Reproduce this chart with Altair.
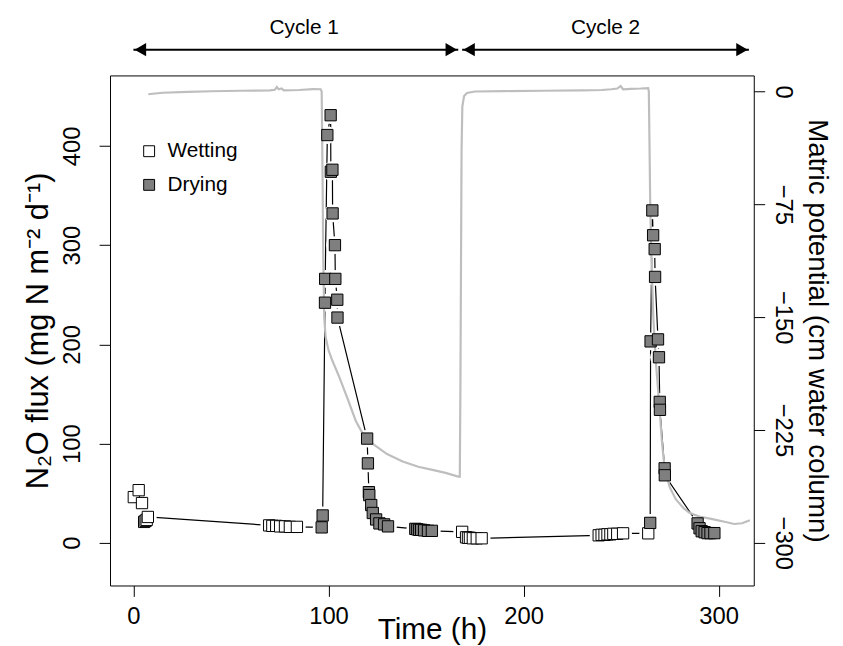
import altair as alt
import pandas as pd

FONT = "Liberation Sans"

# ---- Matric potential (grey line, right axis) ----
psi_t = [7.6, 10, 15, 28, 40, 55, 70, 72.5, 73.5, 74.5, 76, 77, 85, 92, 96,
         96.5, 96.9, 97.3, 97.8, 98.5, 100, 102, 105.6, 110, 114, 117.8, 122.9,
         130, 138, 146, 155, 160, 166.5, 167.3,
         167.6, 167.9, 168.2, 168.6, 169.5, 171, 175, 190, 210, 230, 240, 245,
         248, 249.7, 251, 255, 260, 263.9,
         264.2, 264.5, 264.9, 265.5, 266.5, 267.8, 269, 269.8, 271, 272.3, 274.9,
         278, 282, 285, 290, 296.8, 303, 308, 312, 316]
psi_v = [-1.8, -1.5, -0.8, -0.2, 0.2, 0.5, 0.8, 1.2, 3.0, 1.5, 2.0, 0.8, 1.0, 1.6, 1.5,
         0, -50, -110, -150, -163, -172, -179, -190, -205, -219, -228, -234.5,
         -241, -246, -249.5, -252, -253.5, -256, -256,
         -200, -120, -40, -10, -3, -1, 0, 0.3, 0.5, 0.8, 1.0, 1.5,
         2.0, 3.6, 1.5, 1.8, 2.0, 2.3,
         0, -30, -74, -110, -150, -180, -199, -213, -234, -251, -263,
         -271, -277, -280, -282.5, -284.3, -286, -287.5, -287, -285]

# ---- N2O flux (squares + connecting line, left axis) ----
flux_t = [0.2, 2.7, 4.4, 5.5, 6.2, 6.8, 7.4,
          69.6, 71.2, 73.2, 75.2, 77.7, 80.2, 83.8,
          96.5, 97.0, 98.2, 98.3, 99.4, 101.1, 101.2, 102.0, 102.1, 103.3, 103.5,
          104.5, 104.6, 119.8, 120.2, 120.7, 120.9, 121.9, 122.7, 124.4, 126.1,
          128.5, 130.5,
          144.5, 145.5, 146.5, 147.5, 149, 151, 153,
          168.5, 170.5, 171.5, 172.5, 174, 176, 178.5,
          238.5, 240, 241.5, 243, 244.5, 246, 248, 251,
          263.9,
          264.9, 265.1, 266.0, 266.4, 267.2, 267.4, 268.9, 269.4, 269.8, 269.9,
          272.3, 272.4, 289.2, 290.2, 291.3, 292.8, 294.3, 295.8, 297.8]
flux_v = [46, 53, 40, 21, 22, 23, 26,
          17.5, 17, 17, 16.5, 16.5, 16, 16,
          15.5, 27.5, 242, 266, 411, 431, 374, 376, 332, 300, 266,
          245, 227, 105, 80, 51, 48, 38, 30, 23.5, 19.5,
          18.5, 16.5,
          14, 13.5, 13, 13, 12.5, 12, 12,
          11, 5.5, 5, 5, 4.5, 4.5, 4.5,
          7.5, 8, 8, 8.5, 8.5, 9, 9, 9.5,
          9.5,
          20, 203, 335, 310, 296, 268, 205, 187, 142, 134,
          75, 68, 19.5, 14.6, 11.6, 10.6, 9.7, 9.7, 9.7]
flux_phase = (["Wetting"] * 14 + ["Drying"] * 30 + ["Wetting"] * 16 +
              ["Drying"] * 19)

# ---- Cycles (arrows at top) ----
cycle_names = ["Cycle 1", "Cycle 2"]
cycle_start = [0, 168.5]
cycle_end = [166.5, 315.5]
cycle_label_t = [87.5, 242]

x_ticks = [0, 100, 200, 300]
left_ticks = [0, 100, 200, 300, 400]
right_ticks = [0, -75, -150, -225, -300]

psi_df = pd.DataFrame({"t": psi_t, "p": psi_v})
flux_df = pd.DataFrame({"t": flux_t, "v": flux_v, "phase": flux_phase,
                        "i": list(range(len(flux_t)))})
cyc_df = pd.DataFrame({"name": cycle_names, "start": cycle_start,
                       "end": cycle_end, "mid": cycle_label_t})

x_scale = alt.Scale(domain=[-12, 318], nice=False, zero=False)
yl_scale = alt.Scale(domain=[-43.1, 471.1], nice=False, zero=False)
yr_scale = alt.Scale(domain=[-328.4, 10.7], nice=False, zero=False)

common = dict(labelFont=FONT, labelFontSize=24, labelColor="black",
              titleFont=FONT, titleFontWeight="normal",
              titleColor="black", tickColor="black", tickSize=11, tickWidth=1,
              domain=False, grid=False, labelFlush=False)

x_axis = alt.Axis(values=x_ticks, title="Time (h)", labelPadding=8,
                  titleFontSize=30, titleBaseline="alphabetic", titleY=54,
                  **common)
yl_axis = alt.Axis(orient="left", values=left_ticks,
                   title="N\u2082O flux (mg N m\u207b\u00b2 d\u207b\u00b9)",
                   labelAngle=270, labelAlign="center", labelBaseline="bottom",
                   labelPadding=15, titleFontSize=31,
                   titleBaseline="alphabetic", titleX=-63, **common)
yr_axis = alt.Axis(orient="right", values=right_ticks,
                   title="Matric potential (cm water column)",
                   labelAngle=90, labelAlign="center", labelBaseline="bottom",
                   titleAngle=90, labelPadding=6, titleFontSize=28,
                   titleBaseline="alphabetic", titleX=55, **common)

x_enc = alt.X("t:Q", scale=x_scale, axis=x_axis)

# black connecting line (left axis)
fline = alt.Chart(flux_df).mark_line(color="black", strokeWidth=1.2).encode(
    x=x_enc,
    y=alt.Y("v:Q", scale=yl_scale, axis=yl_axis),
    order="i:Q",
)

# white halo around each point: gives the "line with gaps" look of type="b"
halo = alt.Chart(flux_df).mark_circle(size=320, color="white",
                                      opacity=1).encode(
    x=x_enc,
    y=alt.Y("v:Q", scale=yl_scale, axis=None),
)

grey = alt.Chart(psi_df).mark_line(color="#bebebe", strokeWidth=2.2).encode(
    x=x_enc,
    y=alt.Y("p:Q", scale=yr_scale, axis=yr_axis),
)

pts = alt.Chart(flux_df).mark_square(size=130, stroke="black", strokeWidth=1,
                                     opacity=1).encode(
    x=x_enc,
    y=alt.Y("v:Q", scale=yl_scale, axis=None),
    fill=alt.Fill("phase:N",
                  scale=alt.Scale(domain=["Wetting", "Drying"],
                                  range=["white", "#7f7f7f"]),
                  legend=alt.Legend(orient="none", legendX=29, legendY=66,
                                    title=None, symbolType="square",
                                    symbolSize=121, symbolStrokeColor="black",
                                    symbolStrokeWidth=1, symbolOpacity=1,
                                    labelFont=FONT, labelFontSize=21,
                                    labelColor="black", labelOffset=8,
                                    rowPadding=12, padding=0)),
    order="i:Q",
)

shaft = alt.Chart(cyc_df).mark_rule(color="black", strokeWidth=2).encode(
    x=alt.X("start:Q", scale=x_scale, axis=x_axis),
    x2="end:Q",
    y=alt.value(-26),
)
head_l = alt.Chart(cyc_df).mark_point(shape="triangle-left", filled=True,
                                      color="black", size=180, opacity=1,
                                      xOffset=7).encode(
    x=alt.X("start:Q", scale=x_scale, axis=x_axis),
    y=alt.value(-26),
)
head_r = alt.Chart(cyc_df).mark_point(shape="triangle-right", filled=True,
                                      color="black", size=180, opacity=1,
                                      xOffset=-7).encode(
    x=alt.X("end:Q", scale=x_scale, axis=x_axis),
    y=alt.value(-26),
)
labels = alt.Chart(cyc_df).mark_text(font=FONT, fontSize=21, color="black",
                                     baseline="middle").encode(
    x=alt.X("mid:Q", scale=x_scale, axis=x_axis),
    y=alt.value(-48),
    text="name:N",
)

chart = alt.layer(fline, halo, grey, pts, shaft, head_l, head_r,
                  labels).resolve_scale(
    y="independent"
).properties(
    width=650, height=515,
    autosize=alt.AutoSizeParams(type="none"),
    padding={"left": 103, "top": 65, "right": 82, "bottom": 58},
).configure_view(stroke="black", strokeWidth=1)

chart.save("out.html", embed_options={"renderer": "svg", "actions": False})
